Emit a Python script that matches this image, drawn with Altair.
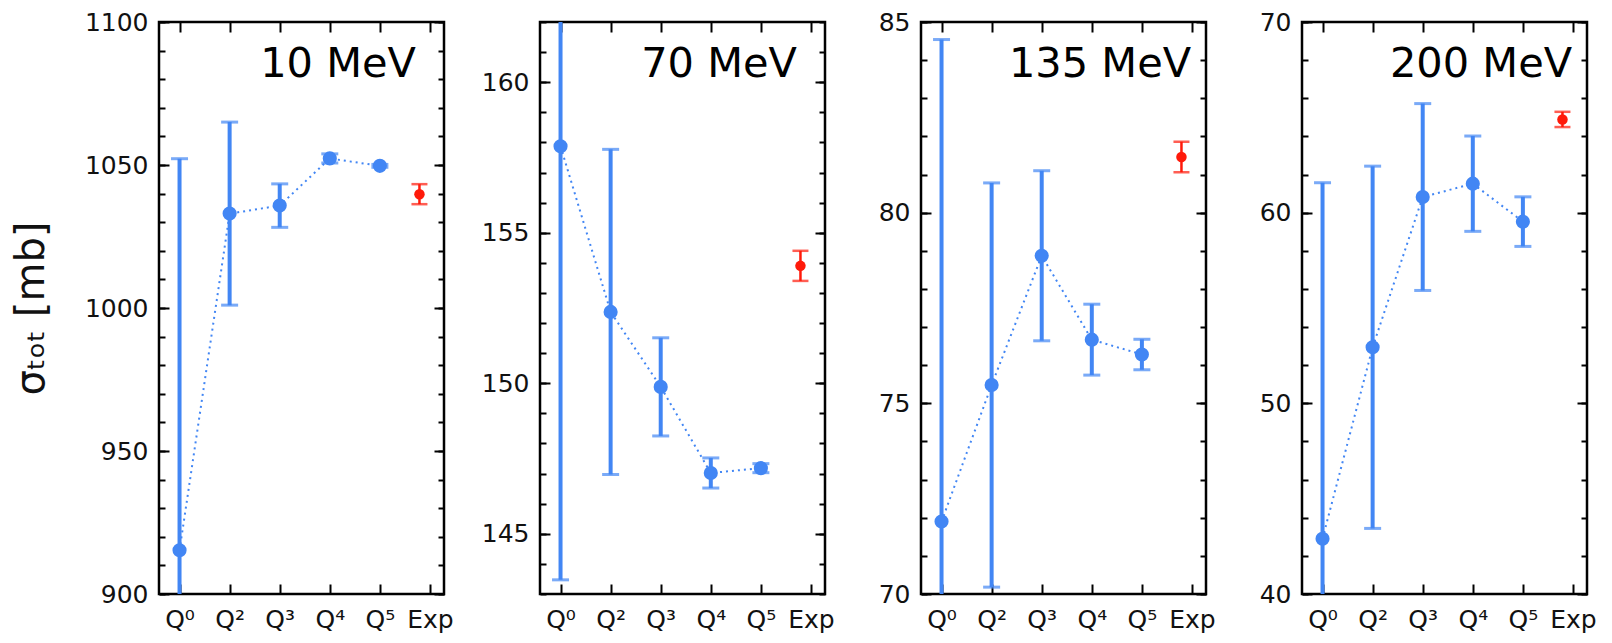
import altair as alt
import pandas as pd

# ---------------- data ----------------
tick_labels = ["Q⁰", "Q²", "Q³", "Q⁴", "Q⁵", "Exp"]
order_pos = [0, 1, 2, 3, 4]
exp_pos = 4.79

energies = ["10 MeV", "70 MeV", "135 MeV", "200 MeV"]

sig_10 = [915.3, 1033.0, 1035.8, 1052.3, 1049.7]
err_10 = [136.9, 32.0, 7.6, 1.6, 0.5]
exp_10 = 1039.8
experr_10 = 3.5

sig_70 = [157.87, 152.37, 149.88, 147.02, 147.18]
err_70 = [14.4, 5.4, 1.63, 0.5, 0.15]
exp_70 = 153.9
experr_70 = 0.5

sig_135 = [71.9, 75.48, 78.87, 76.67, 76.28]
err_135 = [12.64, 5.3, 2.23, 0.93, 0.4]
exp_135 = 81.46
experr_135 = 0.4

sig_200 = [42.9, 52.94, 60.82, 61.52, 59.53]
err_200 = [18.67, 9.5, 4.9, 2.5, 1.3]
exp_200 = 64.89
experr_200 = 0.4

y_domains = [[900, 1100], [143, 162], [70, 85], [40, 70]]
y_major = [[900, 950, 1000, 1050, 1100], [145, 150, 155, 160], [70, 75, 80, 85], [40, 50, 60, 70]]
y_minor = [list(range(900, 1101, 10)), list(range(143, 163, 1)), list(range(70, 86, 1)), list(range(40, 71, 2))]

BLUE = "#4286f4"
RED = "#ff1a0a"
FONT = "DejaVu Sans"
W, H = 285, 572

label_expr = "[" + ",".join("'%s'" % t for t in tick_labels) + "][datum.value]"


def panel(i, name, vals, errs, ev, ee):
    df = pd.DataFrame({
        "x": order_pos,
        "y": vals,
        "lo": [v - e for v, e in zip(vals, errs)],
        "hi": [v + e for v, e in zip(vals, errs)],
    })
    dfe = pd.DataFrame({"x": [exp_pos], "y": [ev], "lo": [ev - ee], "hi": [ev + ee]})
    xs = alt.Scale(domain=[-0.41, 5.28], nice=False, zero=False)
    ys = alt.Scale(domain=y_domains[i], nice=False, zero=False)

    common_ax = dict(domain=False, grid=False, tickColor="black", tickWidth=2, title=None)

    x_bottom = alt.Axis(orient="bottom", values=list(range(6)), labelExpr=label_expr,
                        tickSize=10, offset=-10, labelPadding=13, labelFontSize=25,
                        labelFont=FONT, labelColor="#111", labelFlush=False,
                        labelOverlap=False, **common_ax)
    x_top = alt.Axis(orient="top", values=list(range(6)), labels=False,
                     tickSize=10, offset=-10, **common_ax)
    y_left_kw = dict(common_ax)
    if i == 0:
        y_left_kw["title"] = "σₜₒₜ [mb]"
    y_left = alt.Axis(orient="left", values=y_major[i], tickSize=10, offset=-10,
                      labelPadding=11, labelFontSize=25, labelFont=FONT, labelColor="#111",
                      labelFlush=False, labelOverlap=False, format="d",
                      titleFont=FONT, titleFontSize=40, titleFontWeight="normal",
                      titleColor="#111", titlePadding=33, **y_left_kw)
    y_left_minor = alt.Axis(orient="left", values=y_minor[i], tickSize=6, offset=-6,
                            labels=False, **common_ax)
    y_right = alt.Axis(orient="right", values=y_major[i], tickSize=10, offset=-10,
                       labels=False, **common_ax)
    y_right_minor = alt.Axis(orient="right", values=y_minor[i], tickSize=6, offset=-6,
                             labels=False, **common_ax)

    base = alt.Chart(df)
    line = base.mark_line(color=BLUE, strokeWidth=2, strokeDash=[2, 4]).encode(
        x=alt.X("x:Q", scale=xs, axis=x_top),
        y=alt.Y("y:Q", scale=ys, axis=y_left_minor),
    )
    bars = base.mark_rule(color=BLUE, strokeWidth=4, clip=True).encode(
        x=alt.X("x:Q", scale=xs, axis=x_bottom),
        y=alt.Y("lo:Q", scale=ys, axis=y_left),
        y2="hi:Q",
    )
    cap_lo = base.mark_tick(color=BLUE, orient="horizontal", size=17, thickness=3,
                            clip=True).encode(
        x=alt.X("x:Q", scale=xs, axis=None),
        y=alt.Y("lo:Q", scale=ys, axis=y_right_minor),
    )
    cap_hi = base.mark_tick(color=BLUE, orient="horizontal", size=17, thickness=3,
                            clip=True).encode(
        x=alt.X("x:Q", scale=xs, axis=None),
        y=alt.Y("hi:Q", scale=ys, axis=None),
    )
    pts = base.mark_circle(color=BLUE, size=200, opacity=1).encode(
        x=alt.X("x:Q", scale=xs, axis=None),
        y=alt.Y("y:Q", scale=ys, axis=y_right),
    )
    ebase = alt.Chart(dfe)
    ebar = ebase.mark_rule(color=RED, strokeWidth=2.5).encode(
        x=alt.X("x:Q", scale=xs, axis=None),
        y=alt.Y("lo:Q", scale=ys, axis=None),
        y2="hi:Q",
    )
    ecap_lo = ebase.mark_tick(color=RED, orient="horizontal", size=16, thickness=2.5).encode(
        x=alt.X("x:Q", scale=xs, axis=None),
        y=alt.Y("lo:Q", scale=ys, axis=None),
    )
    ecap_hi = ebase.mark_tick(color=RED, orient="horizontal", size=16, thickness=2.5).encode(
        x=alt.X("x:Q", scale=xs, axis=None),
        y=alt.Y("hi:Q", scale=ys, axis=None),
    )
    epts = ebase.mark_circle(color=RED, size=110, opacity=1).encode(
        x=alt.X("x:Q", scale=xs, axis=None),
        y=alt.Y("y:Q", scale=ys, axis=None),
    )
    label = alt.Chart(pd.DataFrame({"t": [name]})).mark_text(
        font=FONT, fontSize=41.5, align="center", baseline="alphabetic", color="black"
    ).encode(text="t:N", x=alt.value(179), y=alt.value(55))

    return alt.layer(line, bars, cap_lo, cap_hi, pts, ebar, ecap_lo, ecap_hi, epts, label).resolve_axis(
        x="independent", y="independent"
    ).properties(width=W, height=H)


sig = [sig_10, sig_70, sig_135, sig_200]
errs = [err_10, err_70, err_135, err_200]
exps = [exp_10, exp_70, exp_135, exp_200]
experrs = [experr_10, experr_70, experr_135, experr_200]

panels = [panel(i, energies[i], sig[i], errs[i], exps[i], experrs[i]) for i in range(4)]

chart = alt.hconcat(*panels, spacing=96, bounds="flush").configure_view(
    stroke="black", strokeWidth=2.5
).properties(
    padding={"left": 10, "top": 8, "right": 5, "bottom": 5}
)

chart.save("out.html", embed_options={"renderer": "svg", "actions": False})
